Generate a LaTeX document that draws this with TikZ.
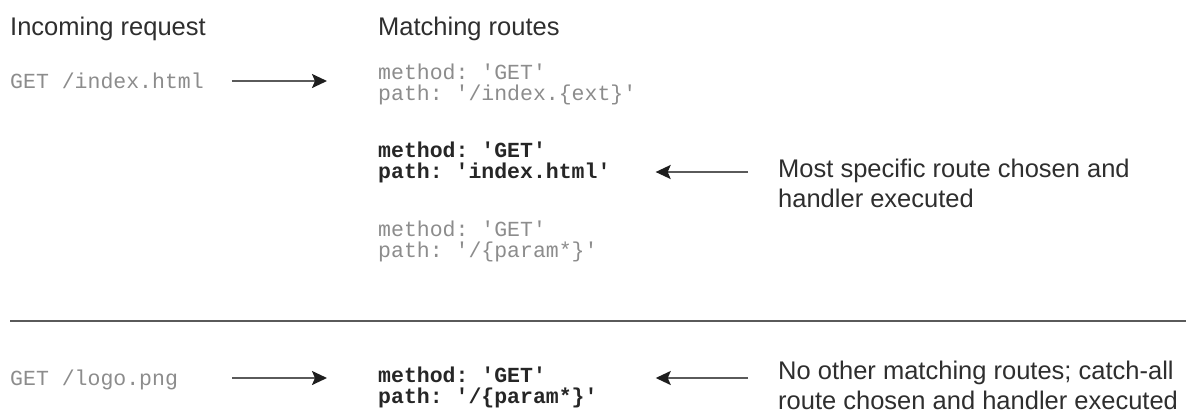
\documentclass[tikz,border=0pt]{standalone}
\usepackage{fontspec}
\setmainfont{Liberation Sans}
\setmonofont{Liberation Mono}
\usetikzlibrary{arrows.meta, positioning}

\definecolor{textgray}{HTML}{2E2E2E}
\definecolor{codegray}{HTML}{8C8C8C}
\definecolor{codedark}{HTML}{262626}
\definecolor{linegray}{HTML}{5A5A5A}
\definecolor{tipdark}{HTML}{1E1E1E}

\begin{document}
\begin{tikzpicture}[
    x=1pt, y=-1pt,
    head/.style={anchor=base west, inner sep=0pt, font=\fontsize{25.5}{30}\selectfont, text=textgray},
    note/.style={head, align=left},
    req/.style={anchor=base west, inner sep=0pt, font=\ttfamily\fontsize{21.5}{20.5}\selectfont, text=codegray},
    route/.style={req, align=left},
    chosen/.style={route, font=\ttfamily\bfseries\fontsize{21.5}{20.5}\selectfont, text=codedark},
    arr/.style={draw=linegray, line width=2pt, -{Stealth[length=15pt, width=14pt, inset=3pt, color=tipdark]}},
    rule/.style={draw=linegray, line width=2pt}
]
    \useasboundingbox (0,0) rectangle (1186,416);

    % column heads
    \node[head] (inhead) at (10,35)  {Incoming request};
    \node[head] (mhead)  at (378,35) {Matching routes};

    % first request (multi-line nodes sit on their last line)
    \node[req]    (req1)  at (10,88)   {GET /index.html};
    \node[route]  (ext)   at (378,100) {method: 'GET'\\path: '/index.\{ext\}'};
    \node[chosen] (exact) at (378,178) {method: 'GET'\\path: 'index.html'};
    \node[route]  (param) at (378,257) {method: 'GET'\\path: '/\{param*\}'};
    \node[note]   (note1) at (778,207) {Most specific route chosen and\\handler executed};

    \draw[arr, shorten <=28pt, shorten >=51pt] ([yshift=7pt]req1.base east) -- ([yshift=7pt]req1.base east -| ext.west);
    \draw[arr, shorten <=30pt, shorten >=45pt] ([yshift=35pt]note1.base west) -- ([yshift=35pt]note1.base west -| exact.east);

    \coordinate (ruleL) at (10,321);
    \coordinate (ruleR) at (1186,321);
    \draw[rule] (ruleL) -- (ruleR);

    % second request
    \node[req]    (req2)  at (10,385)  {GET /logo.png};
    \node[chosen] (catch) at (378,403) {method: 'GET'\\path: '/\{param*\}'};
    \node[note]   (note2) at (778,409) {No other matching routes; catch-all\\route chosen and handler executed};

    \draw[arr, shorten <=54pt, shorten >=51pt] ([yshift=7pt]req2.base east) -- ([yshift=7pt]req2.base east -| catch.west);
    \draw[arr, shorten <=30pt, shorten >=58pt] ([yshift=31pt]note2.base west) -- ([yshift=31pt]note2.base west -| catch.east);
\end{tikzpicture}
\end{document}
